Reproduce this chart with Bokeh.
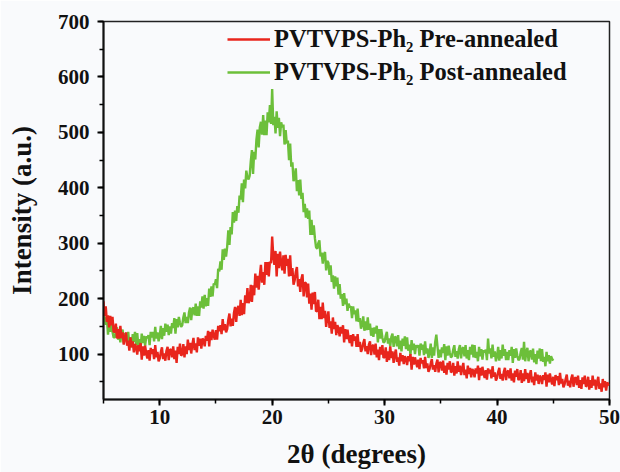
from bokeh.plotting import figure
from bokeh.models import Legend, LegendItem, SingleIntervalTicker, Range1d
from bokeh.embed import file_html
from bokeh.resources import INLINE

# 2-theta sampling grid of the diffractograms
two_theta_start = 5.0
two_theta_step = 0.1

# Intensity (a.u.), pre-annealed film, 5.0 .. 50.0 deg (rows of 1 degree)
pre_annealed = [
    195, 169, 186, 158, 170, 148, 169, 152, 167, 140,
    140, 155, 128, 145, 128, 151, 129, 139, 117, 130,
    139, 115, 124, 106, 130, 112, 123, 103, 118, 113,
    99, 116, 105, 120, 90, 114, 97, 115, 101, 92,
    107, 88, 111, 100, 109, 91, 116, 94, 104, 87,
    92, 104, 112, 91, 101, 88, 106, 113, 89, 107,
    109, 94, 114, 91, 106, 84, 113, 100, 119, 97,
    100, 118, 94, 114, 100, 126, 107, 120, 101, 117,
    129, 107, 119, 103, 130, 115, 128, 110, 128, 125,
    114, 133, 124, 142, 114, 140, 125, 144, 133, 126,
    143, 126, 151, 141, 152, 136, 163, 143, 154, 139,
    145, 162, 173, 150, 164, 151, 174, 185, 158, 181,
    187, 169, 198, 170, 192, 172, 206, 192, 219, 192,
    198, 225, 194, 224, 206, 245, 220, 241, 216, 241,
    261, 229, 248, 225, 266, 243, 266, 240, 267, 264,
    312, 276, 261, 286, 240, 281, 255, 285, 264, 251,
    278, 245, 279, 259, 272, 240, 278, 241, 255, 225,
    233, 248, 257, 222, 235, 212, 236, 244, 204, 229,
    228, 202, 227, 191, 209, 180, 211, 190, 212, 177,
    178, 198, 163, 185, 163, 193, 165, 178, 149, 166,
    177, 147, 159, 137, 166, 145, 158, 134, 152, 146,
    132, 149, 137, 152, 121, 145, 127, 144, 129, 120,
    134, 114, 136, 124, 132, 113, 136, 113, 122, 104,
    109, 120, 127, 105, 114, 100, 117, 123, 98, 115,
    116, 99, 119, 94, 108, 89, 113, 99, 116, 93,
    95, 112, 86, 105, 89, 114, 93, 105, 84, 99,
    108, 86, 94, 79, 102, 87, 98, 82, 96, 91,
    80, 96, 87, 100, 72, 95, 81, 94, 85, 76,
    90, 73, 93, 83, 89, 74, 95, 75, 83, 68,
    73, 83, 91, 72, 80, 68, 83, 90, 67, 84,
    85, 70, 88, 66, 79, 63, 84, 72, 87, 67,
    69, 84, 61, 78, 65, 87, 68, 79, 62, 74,
    84, 62, 72, 56, 79, 64, 75, 58, 73, 69,
    58, 74, 65, 79, 53, 75, 61, 77, 65, 57,
    71, 54, 74, 65, 72, 56, 78, 59, 67, 52,
    57, 68, 75, 55, 64, 52, 68, 75, 53, 68,
    70, 56, 74, 52, 65, 49, 70, 59, 73, 53,
    56, 71, 48, 65, 51, 73, 55, 66, 48, 61,
    71, 49, 59, 44, 67, 52, 63, 46, 61, 57,
    46, 62, 53, 67, 41, 63, 49, 65, 53, 45,
    59, 42, 62, 53, 60, 44, 66, 47, 55, 40,
    45, 55, 63, 43, 52, 40, 56, 63, 41, 56,
    58, 44, 61, 39, 53, 37, 58, 46, 61, 41,
    44, 59, 36, 53, 39, 61, 43, 54, 36, 49,
    59, 37, 47, 32, 55, 40, 51, 34, 49, 45,
    44,
]

# Intensity (a.u.), post-annealed film, 5.0 .. 45.0 deg (rows of 1 degree)
post_annealed = [
    168, 165, 153, 166, 135, 158, 140, 156, 140, 130,
    130, 141, 148, 126, 135, 121, 138, 144, 119, 136,
    137, 121, 140, 116, 130, 112, 136, 122, 140, 116,
    138, 115, 127, 110, 137, 120, 133, 115, 132, 129,
    134, 116, 140, 130, 140, 123, 149, 128, 139, 123,
    133, 151, 127, 147, 133, 155, 140, 153, 134, 150,
    137, 156, 147, 165, 137, 163, 148, 167, 156, 149,
    152, 166, 175, 156, 167, 156, 175, 184, 161, 181,
    184, 170, 191, 169, 186, 169, 195, 184, 204, 182,
    207, 186, 201, 187, 218, 203, 222, 204, 227, 225,
    235, 219, 254, 249, 267, 252, 289, 270, 290, 276,
    294, 323, 297, 329, 316, 356, 337, 359, 340, 367,
    355, 386, 379, 408, 374, 415, 399, 431, 419, 415,
    422, 448, 468, 425, 465, 451, 487, 505, 473, 509,
    519, 496, 531, 495, 521, 495, 536, 518, 549, 515,
    578, 513, 528, 498, 538, 508, 526, 493, 518, 509,
    514, 478, 504, 480, 485, 450, 480, 438, 446, 412,
    418, 435, 394, 414, 386, 415, 380, 391, 356, 371,
    346, 363, 344, 359, 315, 342, 315, 332, 309, 293,
    290, 300, 305, 276, 283, 263, 280, 284, 251, 268,
    265, 243, 260, 230, 242, 218, 240, 222, 238, 207,
    226, 200, 208, 187, 210, 190, 200, 178, 191, 184,
    186, 165, 186, 172, 179, 159, 182, 158, 165, 146,
    153, 168, 142, 159, 143, 166, 144, 155, 133, 147,
    131, 148, 137, 151, 121, 145, 128, 145, 130, 121,
    122, 133, 140, 119, 128, 114, 131, 137, 113, 130,
    131, 114, 134, 109, 124, 105, 128, 115, 132, 109,
    130, 106, 117, 99, 125, 107, 119, 100, 116, 112,
    116, 97, 119, 108, 117, 98, 123, 101, 110, 93,
    102, 119, 93, 112, 97, 122, 135, 114, 93, 108,
    94, 112, 102, 118, 89, 114, 97, 115, 102, 94,
    96, 108, 116, 95, 105, 92, 109, 116, 92, 110,
    112, 96, 116, 92, 107, 89, 113, 99, 117, 94,
    116, 93, 104, 87, 113, 96, 109, 90, 107, 103,
    108, 89, 128, 101, 110, 92, 117, 95, 105, 87,
    96, 113, 88, 107, 92, 117, 97, 109, 89, 104,
    89, 107, 97, 113, 84, 109, 93, 110, 97, 89,
    91, 103, 111, 90, 122, 87, 104, 111, 87, 104,
    106, 90, 110, 85, 100, 82, 106, 92, 110, 87,
    109, 86, 95, 78, 104, 87, 98, 83, 96, 91,
    88,
]

series_labels = ["PVTVPS-Ph\u2082 Pre-annealed", "PVTVPS-Ph\u2082 Post-annealed"]
x_label = "2\u03b8 (degrees)"
y_label = "Intensity (a.u.)"

x_pre = [round(two_theta_start + i * two_theta_step, 2) for i in range(len(pre_annealed))]
x_post = [round(two_theta_start + i * two_theta_step, 2) for i in range(len(post_annealed))]

RED = "#e8251c"
GREEN = "#6cbf3a"
FONT = "Liberation Serif"
BG = "#f9fafc"

p = figure(width=620, height=472, output_backend="svg", toolbar_location=None,
           x_range=Range1d(5, 50), y_range=Range1d(18, 700),
           min_border_left=103, min_border_right=11, min_border_top=21, min_border_bottom=73,
           background_fill_color=BG, border_fill_color=BG)
p.xgrid.visible = False
p.ygrid.visible = False
p.outline_line_color = "#222222"
p.outline_line_width = 1.5

g = p.line(x_post, post_annealed, line_color=GREEN, line_width=2.4)
r = p.line(x_pre, pre_annealed, line_color=RED, line_width=2.4)

p.xaxis.ticker = SingleIntervalTicker(interval=10, num_minor_ticks=2)
p.yaxis.ticker = SingleIntervalTicker(interval=100, num_minor_ticks=2)

for ax in (p.xaxis[0], p.yaxis[0]):
    ax.axis_line_width = 2
    ax.axis_line_color = "#111111"
    ax.major_tick_line_width = 2
    ax.minor_tick_line_width = 1.5
    ax.major_tick_in = 0
    ax.major_tick_out = 6
    ax.minor_tick_in = 0
    ax.minor_tick_out = 4
    ax.major_label_text_font = FONT
    ax.major_label_text_font_style = "bold"
    ax.major_label_text_font_size = "21px"
    ax.major_label_text_color = "#111111"
    ax.axis_label_text_font = FONT
    ax.axis_label_text_font_style = "bold"
    ax.axis_label_text_font_size = "27px"
    ax.axis_label_text_color = "#111111"

p.xaxis.axis_label = x_label
p.yaxis.axis_label = y_label
p.xaxis.major_label_standoff = 4
p.yaxis.major_label_standoff = 8
p.xaxis.axis_label_standoff = 12
p.yaxis.axis_label_standoff = 18

legend = Legend(items=[LegendItem(label=series_labels[0], renderers=[r]),
                       LegendItem(label=series_labels[1], renderers=[g])],
                location=(124, 313), padding=0, margin=0, spacing=5,
                glyph_width=43, glyph_height=26, label_height=26, label_standoff=4,
                border_line_color=None, background_fill_alpha=0,
                label_text_font=FONT, label_text_font_style="bold",
                label_text_font_size="24.5px", label_text_color="#111111")
p.add_layout(legend)

open("out.html", "w").write(file_html(p, INLINE))
